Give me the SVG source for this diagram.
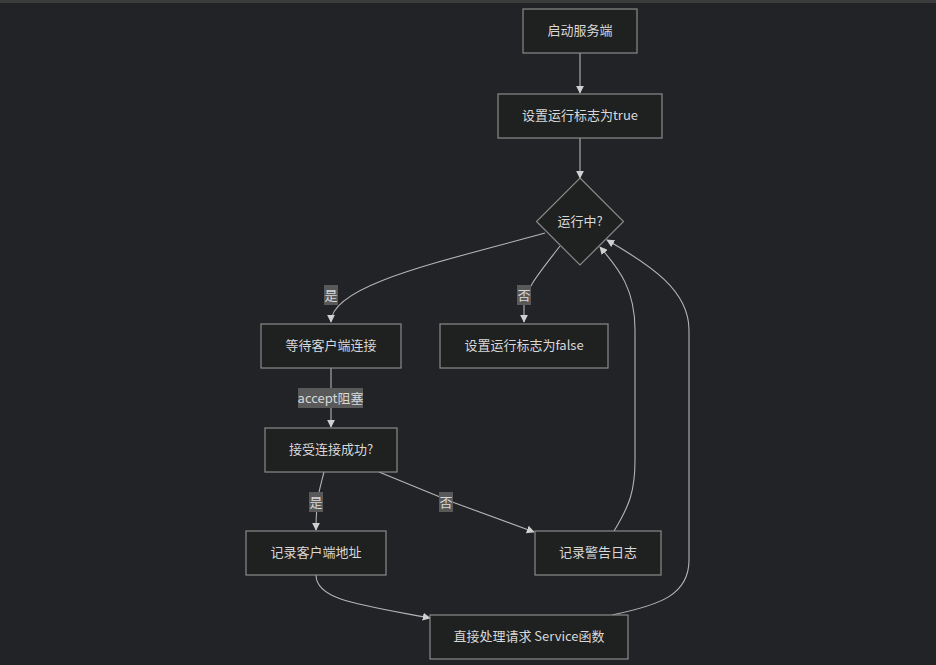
<svg xmlns="http://www.w3.org/2000/svg" width="936" height="665" viewBox="0 0 936 665">
<style>
.bg{fill:#222327}
.node rect,.node polygon{fill:#1f2020;stroke:#8a8a8a;stroke-width:1.2}
.t{font-family:"Noto Sans CJK SC","Liberation Sans",sans-serif;font-size:13px;fill:#d8d8d8;text-anchor:middle;dominant-baseline:central}
.e{fill:none;stroke:#b5b5b5;stroke-width:1.1;marker-end:url(#arr)}
.lb{fill:#595959}
</style>
<defs>
<marker id="arr" viewBox="0 0 10 10" refX="9" refY="5" markerWidth="8" markerHeight="8" markerUnits="userSpaceOnUse" orient="auto">
<path d="M0,0 L10,5 L0,10 z" fill="#d0d0d0"/>
</marker>
</defs>
<rect class="bg" x="0" y="0" width="936" height="665"/>
<rect x="0" y="0" width="936" height="3" fill="#3c3c3c"/>
<g id="connectors">
<path class="e" d="M580,53 L580,93"/>
<path class="e" d="M580,138 L580,178"/>
<path class="e" d="M545,233 C440,262 331,285 331,322"/>
<path class="e" d="M560,246 C540,272 526,288 524,305 L524,322"/>
<path class="e" d="M331,368 L331,427"/>
<path class="e" d="M324,472 C320,488 316,498 316,530"/>
<path class="e" d="M379,472 L440,497 Q448,501 455,503 L534,532"/>
<path class="e" d="M316,575 C316,600 360,605 430,618"/>
<path class="e" d="M614,531 C630,505 635,490 635,460 L635,330 C635,290 620,270 600,247"/>
<path class="e" d="M612,615 C660,605 689,595 689,560 L689,330 C689,290 650,265 607,240"/>
<rect class="lb" x="324" y="285" width="14" height="20"/>
<text class="t" x="331" y="294">是</text>
<rect class="lb" x="517" y="285" width="14" height="20"/>
<text class="t" x="524" y="294">否</text>
<rect class="lb" x="298" y="388" width="65" height="20"/>
<text class="t" x="330.5" y="397">accept阻塞</text>
<rect class="lb" x="309" y="492" width="14" height="20"/>
<text class="t" x="316" y="501">是</text>
<rect class="lb" x="439" y="492" width="14" height="20"/>
<text class="t" x="446" y="501">否</text>
</g>
<g id="n1" class="node"><rect x="523" y="9" width="114" height="44"/><text class="t" x="580" y="29.5">启动服务端</text></g>
<g id="n2" class="node"><rect x="498" y="94" width="164" height="44"/><text class="t" x="580" y="114.5">设置运行标志为true</text></g>
<g id="n3" class="node"><polygon points="580,178 623.5,221.5 580,265 536.5,221.5"/><text class="t" x="580" y="220">运行中?</text></g>
<g id="n4" class="node"><rect x="261" y="324" width="140" height="44"/><text class="t" x="331" y="344.5">等待客户端连接</text></g>
<g id="n5" class="node"><rect x="440" y="324" width="168" height="44"/><text class="t" x="524" y="344.5">设置运行标志为false</text></g>
<g id="n6" class="node"><rect x="265" y="428" width="132" height="44"/><text class="t" x="331" y="448.5">接受连接成功?</text></g>
<g id="n7" class="node"><rect x="246" y="531" width="140" height="44"/><text class="t" x="316" y="551.5">记录客户端地址</text></g>
<g id="n8" class="node"><rect x="535" y="531" width="126" height="44"/><text class="t" x="598" y="551.5">记录警告日志</text></g>
<g id="n9" class="node"><rect x="430" y="615" width="198" height="44"/><text class="t" x="529" y="635.5">直接处理请求 Service函数</text></g>
</svg>
